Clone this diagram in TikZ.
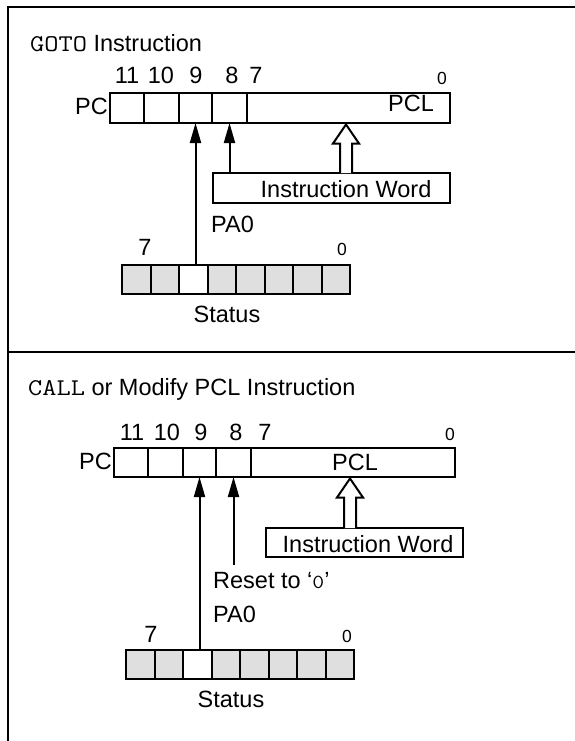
\documentclass[tikz,border=0pt]{standalone}
\usepackage{fontspec}
\setmainfont{Liberation Sans}
\setmonofont[FakeStretch=1.15]{Latin Modern Mono}
\usetikzlibrary{arrows.meta,calc}
\begin{document}
\begin{tikzpicture}[x=1pt,y=-1pt,
  frame/.style={line width=2pt},
  cell/.style={draw,line width=2pt,inner sep=0pt,outer sep=0pt},
  scell/.style={cell,minimum width=28.5pt,minimum height=29pt},
  lbl/.style={inner sep=0pt,anchor=base,font=\fontsize{23.5}{27}\selectfont},
  small/.style={inner sep=0pt,anchor=base,font=\fontsize{17.5}{20}\selectfont},
  arr/.style={line width=2pt,-{Triangle[length=20pt,width=11pt]}},
  hollow/.style={draw,line width=2pt,fill=white,line join=miter}
]
\useasboundingbox (0,0) rectangle (575,741);
% frame
\draw[frame] (8,741) -- (8,7) -- (575,7);
\draw[frame] (8,352) -- (575,352);

% ---------------- GOTO section ----------------
\node[lbl,anchor=base west] (ttitle) at (30,52) {{\ttfamily\fontsize{24}{27}\selectfont GOTO} Instruction};
\node[lbl] (tb11) at (127,84) {11};
\node[lbl] (tb10) at (161,84) {10};
\node[lbl] (tb9) at (196,84) {9};
\node[lbl] (tb8) at (232,84) {8};
\node[lbl] (tb7) at (256,84) {7};
\node[small] (tb0) at (442,85) {0};
\node[lbl,anchor=base east] (tpc) at (108,115) {PC};
\node[cell,minimum width=34pt,minimum height=30pt] (t11) at (127,108) {};
\node[cell,minimum width=35pt,minimum height=30pt] (t10) at (161.5,108) {};
\node[cell,minimum width=33pt,minimum height=30pt] (t9) at (195.5,108) {};
\node[cell,minimum width=35pt,minimum height=30pt] (t8) at (229.5,108) {};
\node[cell,minimum width=203pt,minimum height=30pt] (tpcl) at (348.5,108) {};
\node[lbl] (tpcltxt) at (411,112) {PCL};
\node[cell,minimum width=237pt,minimum height=30pt] (tiw) at (331.5,188) {};
\node[lbl] (tiwt) at (346,197) {Instruction Word};
\coordinate (thb) at (346,173);
\coordinate (tht) at (346,124.5);
\draw[hollow] ($(thb)+(-6,0)$) -- ($(tht)+(-6,19)$) -- ($(tht)+(-13,19)$) -- (tht)
  -- ($(tht)+(13,19)$) -- ($(tht)+(6,19)$) -- ($(thb)+(6,0)$);
\node[lbl,anchor=base west] (tpa0) at (211,232) {PA0};
\foreach \i/\f in {0/gray!25,1/gray!25,2/white,3/gray!25,4/gray!25,5/gray!25,6/gray!25,7/gray!25}
  \node[scell,fill=\f] (ts\i) at ({136.25+28.5*\i},279.5) {};
\node[lbl] (ts7l) at (145,255) {7};
\node[small] (ts0l) at (342,255) {0};
\node[lbl] (tstat) at (227,322) {Status};
\draw[arr] (t9.south |- ts2.north) -- (t9.south);
\draw[arr] (t8.south |- tiw.north) -- (t8.south);

% ---------------- CALL section ----------------
\node[lbl,anchor=base west] (btitle) at (28,395) {{\ttfamily\fontsize{24}{27}\selectfont CALL} or Modify PCL Instruction};
\node[lbl] (bb11) at (132,440) {11};
\node[lbl] (bb10) at (167,440) {10};
\node[lbl] (bb9) at (201,440) {9};
\node[lbl] (bb8) at (236,440) {8};
\node[lbl] (bb7) at (265,440) {7};
\node[small] (bb0) at (450,440) {0};
\node[lbl,anchor=base east] (bpc) at (112,469) {PC};
\node[cell,minimum width=34pt,minimum height=29pt] (b11) at (131,462.5) {};
\node[cell,minimum width=35pt,minimum height=29pt] (b10) at (165.5,462.5) {};
\node[cell,minimum width=33pt,minimum height=29pt] (b9) at (199.5,462.5) {};
\node[cell,minimum width=35pt,minimum height=29pt] (b8) at (233.5,462.5) {};
\node[cell,minimum width=204pt,minimum height=29pt] (bpcl) at (353,462.5) {};
\node[lbl] (bpcltxt) at (355,470) {PCL};
\node[cell,minimum width=197pt,minimum height=29pt] (biw) at (364.5,542.5) {};
\node[lbl] (biwt) at (368,552) {Instruction Word};
\coordinate (bhb) at (350,528);
\coordinate (bht) at (350,478.5);
\draw[hollow] ($(bhb)+(-6,0)$) -- ($(bht)+(-6,19)$) -- ($(bht)+(-13,19)$) -- (bht)
  -- ($(bht)+(13,19)$) -- ($(bht)+(6,19)$) -- ($(bhb)+(6,0)$);
\node[lbl,anchor=base west] (brst) at (213,588) {Reset to ‘{\ttfamily\fontsize{20}{24}\selectfont 0}’};
\node[lbl,anchor=base west] (bpa0) at (213,622) {PA0};
\foreach \i/\f in {0/gray!25,1/gray!25,2/white,3/gray!25,4/gray!25,5/gray!25,6/gray!25,7/gray!25}
  \node[scell,fill=\f] (bs\i) at ({140.25+28.5*\i},664) {};
\node[lbl] (bs7l) at (151,642) {7};
\node[small] (bs0l) at (347,642) {0};
\node[lbl] (bstat) at (231,707) {Status};
\coordinate (rst) at (233.5,565);
\draw[arr] (bs2.north -| b9.south) -- (b9.south);
\draw[arr] (rst) -- (b8.south);
\end{tikzpicture}
\end{document}
